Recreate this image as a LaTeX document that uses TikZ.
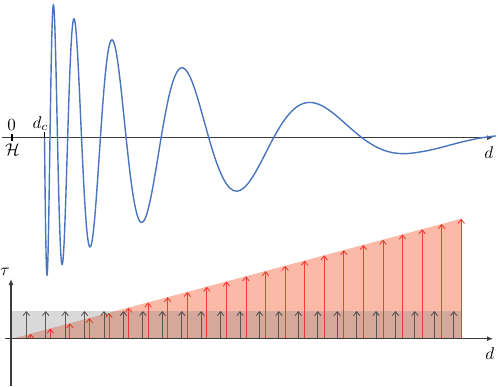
\documentclass[tikz,border=0pt]{standalone}
\usetikzlibrary{arrows.meta}
\definecolor{wavecol}{RGB}{72,116,192}
\definecolor{axisgray}{RGB}{60,60,60}
\definecolor{salmoncol}{RGB}{246,100,60}
\definecolor{arrred}{RGB}{240,40,30}
\definecolor{arrblack}{RGB}{70,70,70}
\begin{document}
\begin{tikzpicture}[x=1pt,y=-1pt,
  axisline/.style={draw=axisgray, line width=1.1pt, -{Latex[length=6pt,width=5pt]}},
  tickline/.style={draw=black, line width=1.6pt},
  lbl/.style={inner sep=0pt, anchor=base, scale=1.7},
  wavecurve/.style={draw=wavecol, line width=1.4pt},
  blackarr/.style={draw=arrblack, draw opacity=0.85, line width=0.9pt, -{Straight Barb[length=4pt,width=6.5pt]}},
  redarr/.style={draw=arrred, draw opacity=0.85, line width=0.9pt, -{Straight Barb[length=4pt,width=6.5pt]}},
  redfill/.style={fill=salmoncol, fill opacity=0.45},
  grayfill/.style={fill=gray, fill opacity=0.3}]
\useasboundingbox (0,0) rectangle (498,386);

% ---------- top part ----------
\coordinate (tA) at (2,137.7);
\coordinate (tB) at (493,137.7);
\draw[axisline] (tA) -- (tB);
\coordinate (h0a) at (11.7,134); \coordinate (h0b) at (11.7,140.5);
\coordinate (dca) at (44.3,132); \coordinate (dcb) at (44.3,139.5);
\draw[tickline] (h0a) -- (h0b);
\draw[tickline] (dca) -- (dcb);
\node[lbl] (zero) at (11.7,130) {$0$};
\node[lbl] (calH) at (12.5,155) {$\mathcal{H}$};
\node[lbl] (dc) at (40.5,128.3) {$d_c$};
\node[lbl] (dtop) at (488.8,158) {$d$};

\draw[wavecurve] plot[domain=0:22.2, samples=700, variable=\k]
  ({29.3+15.2*exp(0.1543*\k)},
   {137.7 + (\k<21 ? 138.9-1.35*\k-0.2175*\k*\k : 14.6-7.3*(\k-21))*sin(90*\k)});

% ---------- bottom part ----------
\coordinate (O) at (11,338.7);
\coordinate (triR) at (461.5,338.7);
\coordinate (triT) at (461.5,218.7);
\coordinate (triO) at (12,338.7);
\fill[redfill] (triO) -- (triR) -- (triT) -- cycle;
\fill[grayfill] (11,310.7) rectangle (461.5,338.7);

\foreach \i in {0,...,22} {
  \pgfmathsetmacro\xx{26.3+19.43*\i}
  \coordinate (b\i) at (\xx,338.7);
  \coordinate (bt\i) at (\xx,311);
  \draw[blackarr] (b\i) -- (bt\i);
}
\foreach \i in {0,...,22} {
  \pgfmathsetmacro\xx{30.7+19.57*\i}
  \pgfmathsetmacro\yy{338.7-0.267*(\xx-12)}
  \coordinate (r\i) at (\xx,338.7);
  \coordinate (rt\i) at (\xx,\yy);
  \draw[redarr] (r\i) -- (rt\i);
}

\coordinate (hA) at (5,338.7);
\coordinate (hB) at (493,338.7);
\coordinate (vA) at (11,386);
\coordinate (vB) at (11,279);
\draw[axisline] (hA) -- (hB);
\draw[axisline] (vA) -- (vB);
\node[lbl] (tau) at (5,275) {$\tau$};
\node[lbl] (dbot) at (489.7,359) {$d$};
\end{tikzpicture}
\end{document}
